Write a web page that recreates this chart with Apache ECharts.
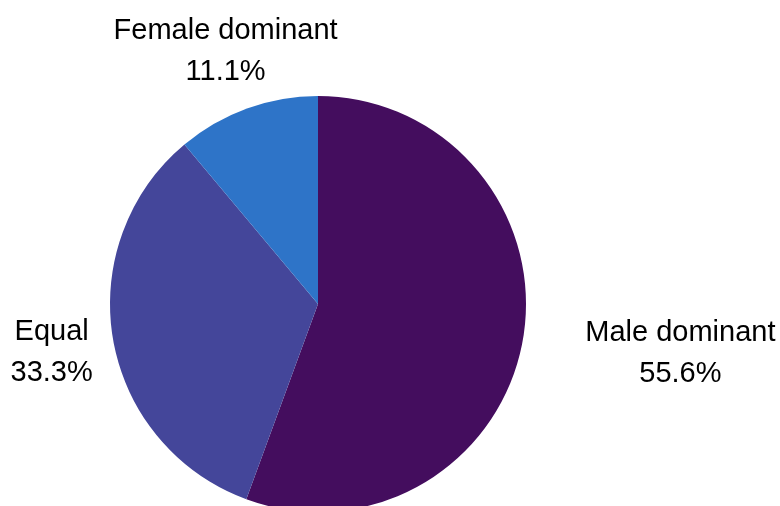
<!DOCTYPE html>
<html>
<head>
<meta charset="utf-8">
<script src="https://cdn.jsdelivr.net/npm/echarts@6/dist/echarts.min.js"></script>
<style>
  html, body { margin: 0; padding: 0; background: #fff; }
  #chart { width: 780px; height: 506px; }
</style>
</head>
<body>
<div id="chart"></div>
<script>
// slices, clockwise from 12 o'clock
const categories = ['Male dominant', 'Equal', 'Female dominant'];
const shares = [55.6, 33.3, 11.1];
const colors = ['#440d5e', '#44469a', '#2e74c8'];

const CX = 318, CY = 304, R = 208;
const LABEL_DIST = 1.3 * R;
const PUSH_DIST = 1.285 * R;

const total = shares.reduce((a, b) => a + b, 0);
// mid angle of each slice (radians, clockwise from top)
const midAngles = [];
let acc = 0;
shares.forEach(v => {
  midAngles.push(((acc + v / 2) / total) * Math.PI * 2);
  acc += v;
});

const chart = echarts.init(document.getElementById('chart'));

chart.setOption({
  animation: false,
  series: [
    {
      type: 'pie',
      center: [CX, CY],
      radius: R,
      startAngle: 90,
      clockwise: true,
      silent: true,
      itemStyle: { borderWidth: 0 },
      data: categories.map((name, i) => ({
        name,
        value: shares[i],
        itemStyle: { color: colors[i] }
      })),
      label: {
        show: true,
        position: 'inside',
        color: '#000',
        fontFamily: 'Liberation Sans, Arial, sans-serif',
        fontSize: 29,
        lineHeight: 41,
        formatter: p => `{t|${p.name}}\n{t|${p.value.toFixed(1)}%}`,
        rich: {
          t: {
            align: 'center',
            color: '#000',
            fontFamily: 'Liberation Sans, Arial, sans-serif',
            fontSize: 29,
            lineHeight: 41
          }
        }
      },
      labelLine: { show: false },
      labelLayout: params => {
        const a = midAngles[params.dataIndex];
        const dx = Math.sin(a), dy = -Math.cos(a);
        const w = params.labelRect.width, h = params.labelRect.height;
        let x = CX + LABEL_DIST * dx;
        let y = CY + LABEL_DIST * dy;
        // push sideways when the label box would sit on the pie
        const nx = Math.min(Math.max(CX, x - w / 2), x + w / 2);
        const ny = Math.min(Math.max(CY, y - h / 2), y + h / 2);
        if (Math.hypot(nx - CX, ny - CY) < R) {
          x = dx > 0 ? CX + PUSH_DIST + w / 2 : CX - PUSH_DIST - w / 2;
        }
        return { x, y: y + 2, align: 'center', verticalAlign: 'middle' };
      }
    }
  ]
});

window.addEventListener('resize', () => chart.resize());
</script>
</body>
</html>
